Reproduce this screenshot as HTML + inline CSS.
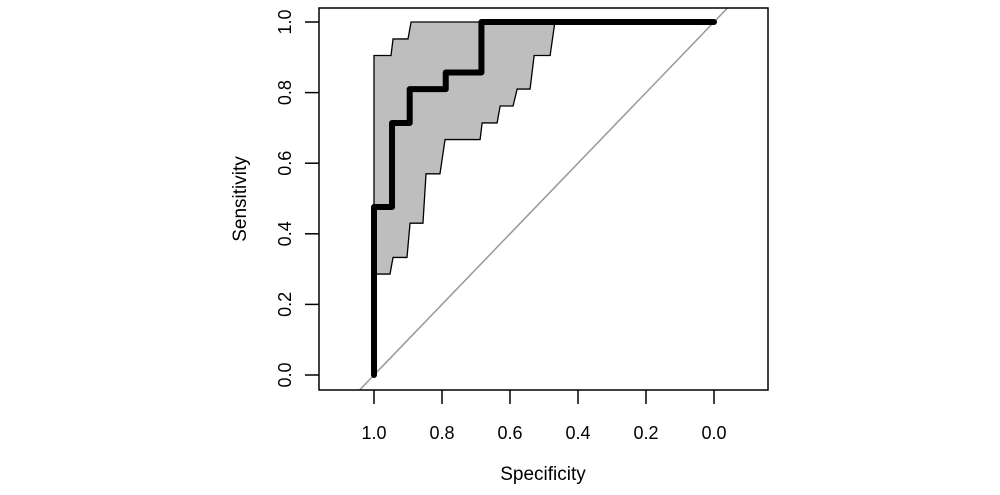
<!DOCTYPE html>
<html><head><meta charset="utf-8"><style>
body{margin:0;background:#fff}
svg text{font-family:"Liberation Sans",sans-serif;fill:#000}
</style></head><body>
<svg width="1000" height="490" viewBox="0 0 1000 490" xmlns="http://www.w3.org/2000/svg">
<g id="plot"></g>
</svg>
<script>
const xTicks=[1.0,0.8,0.6,0.4,0.2,0.0];
const xTickLabels=["1.0","0.8","0.6","0.4","0.2","0.0"];
const yTicks=[0,0.2,0.4,0.6,0.8,1.0];
const yTickLabels=["0.0","0.2","0.4","0.6","0.8","1.0"];
const rocSpec=[1.0,1.0,0.947,0.947,0.895,0.895,0.789,0.789,0.684,0.684,0.0];
const rocSens=[0.0,0.476,0.476,0.714,0.714,0.81,0.81,0.857,0.857,1.0,1.0];
const ciUpperSpec=[1.0,1.0,0.95,0.944,0.9,0.891,0.468];
const ciUpperSens=[0.286,0.905,0.905,0.952,0.952,1.0,1.0];
const ciLowerSpec=[0.468,0.482,0.529,0.541,0.579,0.591,0.629,0.638,0.682,0.688,0.791,0.806,0.847,0.856,0.894,0.903,0.944,0.953,1.0];
const ciLowerSens=[1.0,0.905,0.905,0.81,0.81,0.762,0.762,0.714,0.714,0.667,0.667,0.57,0.57,0.43,0.43,0.333,0.333,0.286,0.286];
const NS="http://www.w3.org/2000/svg";
const g=document.getElementById('plot');
const X=s=>374+(1-s)*340;
const Y=v=>375-v*353;
function mk(t,a,p){const e=document.createElementNS(NS,t);for(const k in a)e.setAttribute(k,a[k]);(p||g).appendChild(e);return e;}
// CI band
let pts=[];
ciUpperSpec.forEach((s,i)=>pts.push(X(s)+','+Y(ciUpperSens[i])));
ciLowerSpec.forEach((s,i)=>pts.push(X(s)+','+Y(ciLowerSens[i])));
const band=mk('polygon',{points:pts.join(' '),fill:'#bebebe',stroke:'#000','stroke-width':1.3});


// diagonal clipped
mk('clipPath',{id:'cp'});
const cp=document.getElementById('cp');
mk('rect',{x:319,y:8,width:449,height:382},cp);
const diag=mk('line',{x1:X(1.1),y1:Y(-0.1),x2:X(-0.1),y2:Y(1.1),stroke:'#999','stroke-width':1.5,'clip-path':'url(#cp)'});


// ROC curve
const roc=mk('polyline',{points:rocSpec.map((s,i)=>X(s)+','+Y(rocSens[i])).join(' '),fill:'none',stroke:'#000','stroke-width':6,'stroke-linecap':'round','stroke-linejoin':'round'});


// box
const box=mk('rect',{x:319,y:8,width:449,height:382,fill:'none',stroke:'#000','stroke-width':1.5});


// x ticks
xTicks.forEach((t,i)=>{
  const l=mk('line',{x1:X(t),x2:X(t),y1:390,y2:404,stroke:'#000','stroke-width':1.5});
  
  
  const tx=mk('text',{x:X(t),y:439,'text-anchor':'middle','font-size':18});
  tx.textContent=xTickLabels[i];
  
  
});
yTicks.forEach((t,i)=>{
  const l=mk('line',{x1:305,x2:319,y1:Y(t),y2:Y(t),stroke:'#000','stroke-width':1.5});
  
  
  const tx=mk('text',{x:0,y:0,'text-anchor':'middle','font-size':18,transform:`translate(291,${Y(t)}) rotate(-90)`});
  tx.textContent=yTickLabels[i];
  
  
});
const xt=mk('text',{x:543,y:480,'text-anchor':'middle','font-size':19});
xt.textContent='Specificity';


const yt=mk('text',{x:0,y:0,'text-anchor':'middle','font-size':19,transform:'translate(246,199) rotate(-90)'});
yt.textContent='Sensitivity';


</script>
</body></html>
